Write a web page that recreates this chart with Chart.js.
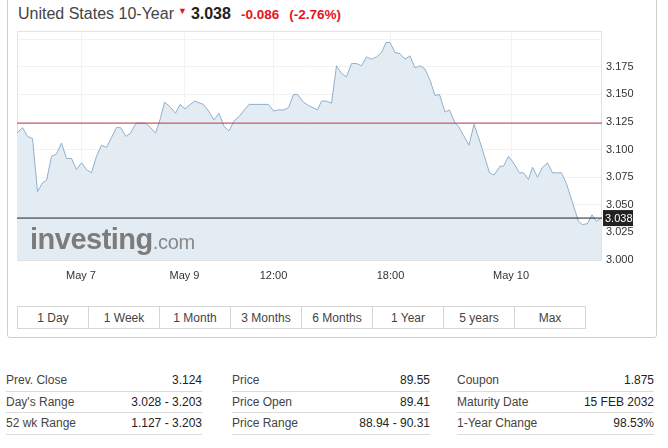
<!DOCTYPE html>
<html><head><meta charset="utf-8">
<script src="https://cdn.jsdelivr.net/npm/chart.js@4/dist/chart.umd.min.js"></script>
<style>
body{margin:0;width:668px;height:448px;background:#fff;font-family:Arial,"Liberation Sans",sans-serif;position:relative;overflow:hidden;color:#333}
#panel{position:absolute;left:7px;top:-6px;width:650px;height:344px;border:1px solid #cfcfcf;border-radius:3px;box-sizing:border-box}
#hdr{position:absolute;left:18px;top:4px;height:20px;line-height:20px;white-space:nowrap;font-size:16px;color:#444}
#hdr .mk{color:#e5141c;font-size:9px;position:relative;top:-5px;margin:0 4px 0 4px}
#hdr .px{font-weight:bold;font-size:16px;color:#222}
#hdr .ch{color:#e5141c;font-weight:bold;font-size:13.5px;margin-left:10px}
#cv{position:absolute;left:0;top:0}
#logo{position:absolute;left:30px;top:223px;white-space:nowrap;color:#7c7c7c;pointer-events:none}
#logo b{font-size:29px;letter-spacing:-0.5px;font-weight:bold}
#logo span{font-size:20px;color:#888;letter-spacing:-0.3px}
#btns{position:absolute;left:17px;top:306px;width:569px;height:23px;border:1px solid #d6d6d6;box-sizing:border-box;display:flex}
#btns div{flex:1;text-align:center;font-size:12px;line-height:22px;color:#444;border-left:1px solid #d6d6d6}
#btns div:first-child{border-left:none}
.col{position:absolute;top:370px}
.row{position:relative;height:20.5px;border-bottom:1px solid #dcdcdc;font-size:12px;line-height:20px}
.row .l{position:absolute;left:0;color:#444}
.row .v{position:absolute;right:0;color:#222}
</style></head><body>
<div id="panel"></div>
<div id="hdr"></div>
<canvas id="cv" width="668" height="290"></canvas>
<div id="logo"><b>investing</b><span>.com</span></div>
<div id="btns"></div>
<div class="col" id="c0" style="left:6px;width:196px"></div>
<div class="col" id="c1" style="left:232px;width:198px"></div>
<div class="col" id="c2" style="left:457px;width:197px"></div>
<script>
// ---- data ----
const instrument = 'United States 10-Year';
const lastPrice = 3.038;
const change = '-0.086';
const changePct = '(-2.76%)';
const prevClose = 3.124;

// time index (sample steps) and yield values
const t = [0,1.1,2.1,3.1,4.1,5.1,5.9,6.9,7.9,8.9,9.9,10.9,11.9,12.9,13.9,14.9,15.9,16.9,17.9,18.9,19.9,20.7,21.8,22.7,23.8,25.7,26.7,27.7,28.6,29.5,30.6,31.7,32.6,33.6,35.5,37.3,38.3,39.4,40.4,41.4,42.4,43.4,44.4,46.4,50.3,51.3,52.3,53.3,54.3,55.3,56.1,57.3,58.3,60.1,60.9,61.9,62.9,63.9,64.9,65.9,66.9,67.9,68.9,69.9,70.9,71.9,72.9,73.8,74.6,75.6,76.6,77.6,78.6,79.6,80.6,81.6,82.6,83.6,84.5,85.6,86.5,87.6,88.3,89.3,90.4,91.4,92.6,94.5,95.4,96.6,97.3,98.3,99.3,100.5,101.3,102.3,103.1,104.1,105.1,106.1,107.1,108.9,109.9,112.3,113.1,114.1,115,115.9,116.8];
const yields = [3.115,3.120,3.112,3.110,3.062,3.070,3.072,3.094,3.096,3.106,3.092,3.092,3.082,3.088,3.082,3.079,3.094,3.104,3.102,3.111,3.120,3.120,3.112,3.115,3.124,3.124,3.120,3.115,3.127,3.143,3.139,3.133,3.141,3.137,3.144,3.141,3.135,3.127,3.133,3.121,3.117,3.126,3.130,3.141,3.141,3.135,3.136,3.136,3.138,3.150,3.150,3.143,3.140,3.136,3.144,3.144,3.142,3.176,3.169,3.166,3.178,3.178,3.176,3.184,3.182,3.184,3.188,3.197,3.197,3.188,3.187,3.182,3.185,3.174,3.176,3.173,3.163,3.149,3.150,3.134,3.136,3.124,3.121,3.113,3.104,3.123,3.107,3.079,3.077,3.085,3.085,3.094,3.088,3.079,3.079,3.073,3.084,3.075,3.084,3.088,3.079,3.079,3.069,3.035,3.032,3.033,3.041,3.035,3.038];

const xTickPos = [12.8, 33.5, 51.3, 74.7, 98.8];
const xTickLabels = ['May 7','May 9','12:00','18:00','May 10'];
const yMin = 3.0, yMax = 3.2075, yStep = 0.025;

const ranges = ['1 Day','1 Week','1 Month','3 Months','6 Months','1 Year','5 years','Max'];

const statLabels1 = ['Prev. Close',"Day's Range",'52 wk Range'];
const statValues1 = ['3.124','3.028 - 3.203','1.127 - 3.203'];
const statLabels2 = ['Price','Price Open','Price Range'];
const statValues2 = ['89.55','89.41','88.94 - 90.31'];
const statLabels3 = ['Coupon','Maturity Date','1-Year Change'];
const statValues3 = ['1.875','15 FEB 2032','98.53%'];

// ---- html parts ----
document.getElementById('hdr').innerHTML =
  instrument + '<span class="mk">&#9660;</span><span class="px">' + lastPrice.toFixed(3) +
  '</span><span class="ch">' + change + '</span><span class="ch">' + changePct + '</span>';
document.getElementById('btns').innerHTML = ranges.map(r => '<div>' + r + '</div>').join('');
[[statLabels1,statValues1],[statLabels2,statValues2],[statLabels3,statValues3]].forEach((c,i) => {
  document.getElementById('c'+i).innerHTML = c[0].map((l,j) =>
    '<div class="row"><span class="l">' + l + '</span><span class="v">' + c[1][j] + '</span></div>').join('');
});

// ---- chart ----
const tMax = 117;
const framePlugin = {
  id: 'frame',
  beforeDatasetsDraw(chart) {
    const a = chart.chartArea, ctx = chart.ctx;
    ctx.save();
    ctx.strokeStyle = '#e2e2e2'; ctx.lineWidth = 1;
    ctx.strokeRect(a.left + 0.5, a.top + 0.5, a.right - a.left - 1, a.bottom - a.top);
    ctx.restore();
  },
  afterDraw(chart) {
    const y = chart.scales.y, ctx = chart.ctx;
    const py = y.getPixelForValue(lastPrice);
    ctx.save();
    ctx.fillStyle = '#222';
    ctx.fillRect(chart.chartArea.right + 1, py - 8, 30, 16);
    ctx.fillStyle = '#fff';
    ctx.font = '11px Arial, "Liberation Sans", sans-serif';
    ctx.textBaseline = 'middle';
    ctx.textAlign = 'left';
    ctx.fillText(lastPrice.toFixed(3), chart.chartArea.right + 3, py + 0.5);
    ctx.restore();
  }
};

new Chart(document.getElementById('cv'), {
  type: 'line',
  data: {
    datasets: [
      { data: t.map((x,i) => ({x, y: yields[i]})), borderColor: '#8fb0cd', borderWidth: 1,
        backgroundColor: '#e4ecf3', fill: 'start', pointRadius: 0, tension: 0, order: 3 },
      { data: [{x:0,y:prevClose},{x:tMax,y:prevClose}], borderColor: '#cc3340', borderWidth: 1,
        pointRadius: 0, fill: false, order: 1 },
      { data: [{x:0,y:lastPrice},{x:tMax,y:lastPrice}], borderColor: '#222', borderWidth: 1,
        pointRadius: 0, fill: false, order: 1 }
    ]
  },
  options: {
    responsive: false, animation: false,
    layout: { padding: { left: 17, top: 31, right: 0, bottom: 0 } },
    plugins: { legend: { display: false }, tooltip: { enabled: false } },
    scales: {
      x: {
        type: 'linear', min: 0, max: tMax,
        afterBuildTicks: s => { s.ticks = xTickPos.map(v => ({ value: v })); },
        afterFit: s => { s.height = 30; },
        ticks: { autoSkip: false, maxRotation: 0, padding: 9, color: '#333',
          font: { size: 11, family: 'Arial, "Liberation Sans", sans-serif' },
          callback: (v, i) => xTickLabels[i] },
        grid: { color: '#f2f2f2', drawTicks: false },
        border: { display: false }
      },
      y: {
        position: 'right', min: yMin, max: yMax,
        afterFit: s => { s.width = 66; },
        ticks: { stepSize: yStep, includeBounds: false, padding: 4, color: '#333',
          font: { size: 11, family: 'Arial, "Liberation Sans", sans-serif' },
          callback: v => v > 3.19 ? '' : Number(v).toFixed(3) },
        grid: { color: '#f2f2f2', drawTicks: false },
        border: { display: false }
      }
    }
  },
  plugins: [framePlugin]
});
</script>
</body></html>
